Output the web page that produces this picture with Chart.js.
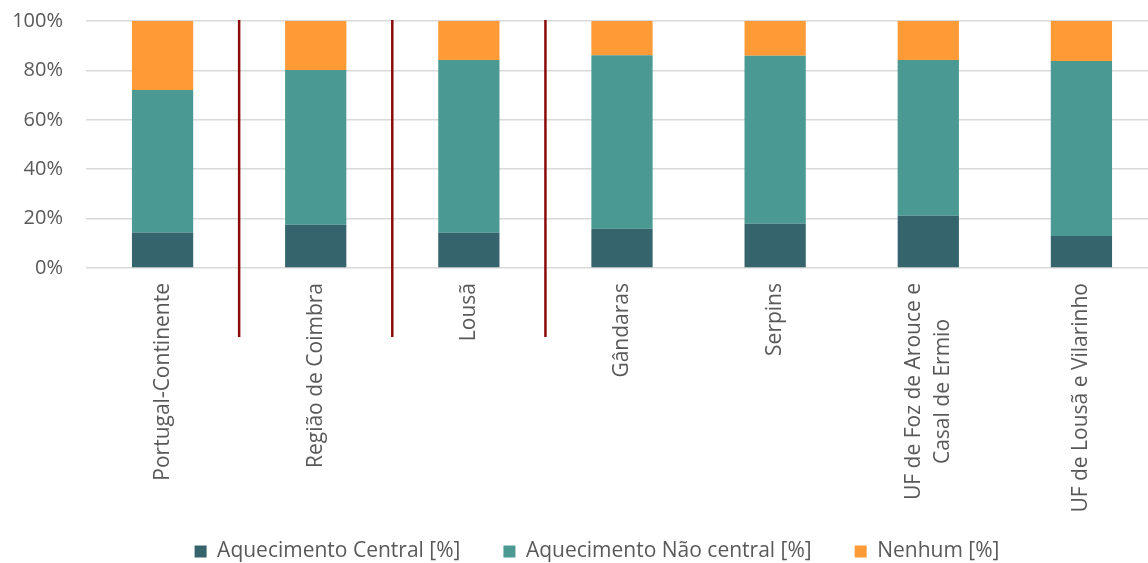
<!DOCTYPE html>
<html>
<head>
<meta charset="utf-8">
<script src="https://cdn.jsdelivr.net/npm/chart.js@4.4.0/dist/chart.umd.min.js"></script>
<style>
  html, body { margin: 0; padding: 0; background: #fff; overflow: hidden; }
  #wrap { width: 1160px; height: 563px; }
</style>
</head>
<body>
<div id="wrap"><canvas id="heatChart"></canvas></div>
<script>
const categories = [
    "Portugal-Continente",
    "Região de Coimbra",
    "Lousã",
    "Gândaras",
    "Serpins",
    ["UF de Foz de Arouce e", "Casal de Ermio"],
    "UF de Lousã e Vilarinho"
];
const central = [14.4, 17.5, 14.3, 15.9, 17.9, 21.2, 13.0];
const naoCentral = [57.7, 62.7, 69.9, 70.2, 68.0, 63.0, 70.8];
const nenhum = [27.9, 19.8, 15.8, 13.9, 14.1, 15.8, 16.2];
const yTicks = [0, 20, 40, 60, 80, 100];
// separator lines drawn after these category indexes
const separatorsAfter = [0, 1, 2];

const textColor = "#595959";
const fontFamily = "'Open Sans', sans-serif";

// custom rotated x labels (lines centred inside the block) + y tick labels
const axisLabelsPlugin = {
    id: "axisLabels",
    afterDraw(chart) {
        const ctx = chart.ctx;
        const x = chart.scales.x;
        const y = chart.scales.y;
        const area = chart.chartArea;
        ctx.save();
        ctx.fillStyle = textColor;
        ctx.textBaseline = "middle";

        ctx.font = "20px " + fontFamily;
        ctx.textAlign = "right";
        yTicks.forEach(v => {
            ctx.fillText(v + "%", area.left - 23, y.getPixelForValue(v));
        });

        ctx.font = "21px " + fontFamily;
        ctx.textAlign = "center";
        const top = area.bottom + 15;
        categories.forEach((lab, i) => {
            const lines = Array.isArray(lab) ? lab : [lab];
            const maxW = Math.max(...lines.map(l => ctx.measureText(l).width));
            const lh = 29;
            ctx.save();
            ctx.translate(x.getPixelForValue(i), top);
            ctx.rotate(-Math.PI / 2);
            lines.forEach((l, j) => {
                ctx.fillText(l, -maxW / 2, (j - (lines.length - 1) / 2) * lh);
            });
            ctx.restore();
        });
        ctx.restore();
    }
};

const separatorPlugin = {
    id: "separators",
    afterDraw(chart) {
        const ctx = chart.ctx;
        const x = chart.scales.x;
        const area = chart.chartArea;
        ctx.save();
        ctx.strokeStyle = "#8B0A0A";
        ctx.lineWidth = 2.5;
        separatorsAfter.forEach(i => {
            const px = (x.getPixelForValue(i) + x.getPixelForValue(i + 1)) / 2;
            ctx.beginPath();
            ctx.moveTo(px, area.top - 1);
            ctx.lineTo(px, area.bottom + 69);
            ctx.stroke();
        });
        ctx.restore();
    }
};

const legendShift = {
    id: "legendShift",
    afterLayout(chart) {
        chart.legend.left += 18;
        chart.legend.right += 18;
        chart.legend.top += 9;
        chart.legend.bottom += 9;
    }
};

const ctx = document.getElementById("heatChart").getContext("2d");
const heatChart = new Chart(ctx, {
    type: "bar",
    data: {
        labels: categories,
        datasets: [
            { label: "Aquecimento Central [%]", data: central, backgroundColor: "#36646C" },
            { label: "Aquecimento Não central [%]", data: naoCentral, backgroundColor: "#4A9A93" },
            { label: "Nenhum [%]", data: nenhum, backgroundColor: "#FF9B37" },
        ],
    },
    options: {
        responsive: true,
        maintainAspectRatio: false,
        animation: false,
        layout: { padding: { top: 21, right: 2, left: 0, bottom: 0 } },
        datasets: { bar: { categoryPercentage: 1, barPercentage: 0.4 } },
        scales: {
            x: {
                stacked: true,
                grid: { display: false },
                border: { display: false },
                ticks: { display: false },
                afterFit(scale) { scale.height = 221; },
            },
            y: {
                stacked: true,
                min: 0,
                max: 100,
                afterBuildTicks(scale) { scale.ticks = yTicks.map(v => ({ value: v })); },
                afterFit(scale) { scale.width = 86; },
                grid: { color: "#d9d9d9", lineWidth: 1.5, drawTicks: false },
                border: { display: false },
                ticks: { display: false },
            },
        },
        plugins: {
            legend: {
                display: true,
                position: "bottom",
                labels: {
                    color: textColor,
                    font: { family: fontFamily, size: 21 },
                    boxWidth: 12,
                    boxHeight: 12,
                    padding: 43,
                },
            },
            tooltip: { enabled: false },
        },
    },
    plugins: [axisLabelsPlugin, separatorPlugin, legendShift],
});
</script>
</body>
</html>
